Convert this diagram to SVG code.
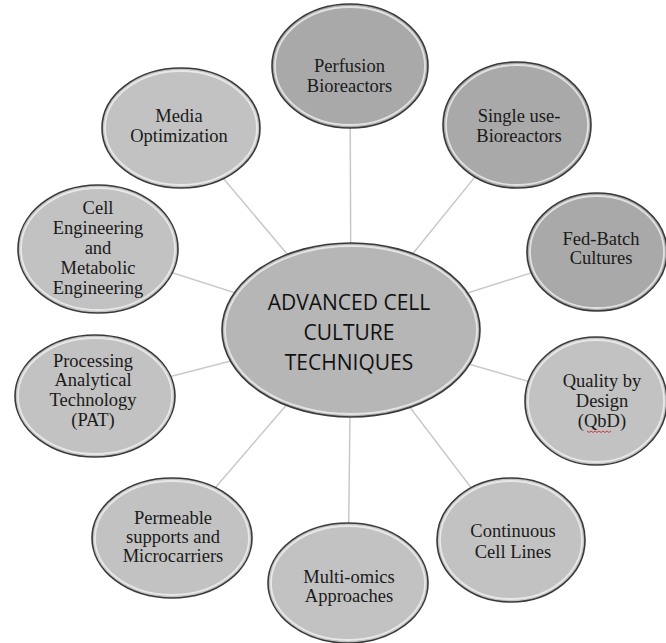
<svg xmlns="http://www.w3.org/2000/svg" width="666" height="643" viewBox="0 0 666 643">
<style>
.bg{fill:#ffffff}
.conn line{stroke:#c8c8c8;stroke-width:1.5}
.out{stroke:#3a3a3a;stroke-width:1.6}
.hl{fill:none;stroke:#f4f4f4;stroke-width:1.8;stroke-opacity:0.75}
.dark{fill:#a9a9a9}
.light{fill:#c2c2c2}
.mid{fill:#b6b6b6}
.t{font-family:"Liberation Serif","Times New Roman",serif;font-size:18.5px;fill:#1a1a1a;text-anchor:middle}
.ct{font-family:"Open Sans","Liberation Sans",Arial,sans-serif;font-size:21px;fill:#111;text-anchor:middle}
</style>
<rect class="bg" x="0" y="0" width="666" height="643"/>
<g id="connectors" class="conn">
<line x1="351" y1="330" x2="350" y2="66"/>
<line x1="351" y1="330" x2="517" y2="125"/>
<line x1="351" y1="330" x2="597" y2="252"/>
<line x1="351" y1="330" x2="596" y2="401"/>
<line x1="351" y1="330" x2="511" y2="540"/>
<line x1="351" y1="330" x2="348" y2="583"/>
<line x1="351" y1="330" x2="172" y2="538"/>
<line x1="351" y1="330" x2="95" y2="396"/>
<line x1="351" y1="330" x2="98" y2="249"/>
<line x1="351" y1="330" x2="181" y2="128"/>
</g>
<g id="center">
<ellipse class="out mid" cx="351" cy="330" rx="129" ry="87"/>
<ellipse class="hl" cx="351" cy="330" rx="126" ry="84"/>
<text class="ct" x="349" y="310">ADVANCED CELL</text>
<text class="ct" x="349" y="340">CULTURE</text>
<text class="ct" x="349" y="370">TECHNIQUES</text>
</g>
<g id="perfusion">
<ellipse class="out dark" cx="350" cy="66" rx="78" ry="62"/>
<ellipse class="hl" cx="350" cy="66" rx="75" ry="59"/>
<text class="t" x="349.5" y="72">Perfusion</text>
<text class="t" x="349.5" y="92">Bioreactors</text>
</g>
<g id="single-use">
<ellipse class="out dark" cx="517" cy="125" rx="74" ry="63"/>
<ellipse class="hl" cx="517" cy="125" rx="71" ry="60"/>
<text class="t" x="519" y="122">Single use-</text>
<text class="t" x="519" y="142">Bioreactors</text>
</g>
<g id="fed-batch">
<ellipse class="out dark" cx="597" cy="252" rx="70" ry="59"/>
<ellipse class="hl" cx="597" cy="252" rx="67" ry="56"/>
<text class="t" x="601" y="245">Fed-Batch</text>
<text class="t" x="601" y="264">Cultures</text>
</g>
<g id="qbd">
<ellipse class="out light" cx="596" cy="401" rx="71" ry="64"/>
<ellipse class="hl" cx="596" cy="401" rx="68" ry="61"/>
<text class="t" x="602" y="387">Quality by</text>
<text class="t" x="602" y="407">Design</text>
<text class="t" x="602" y="427">(QbD)</text>
<path d="M587 431 l2 1.5 l2 -1.5 l2 1.5 l2 -1.5 l2 1.5 l2 -1.5 l2 1.5 l2 -1.5 l2 1.5 l2 -1.5 l2 1.5 l2 -1.5" fill="none" stroke="#d03030" stroke-width="0.9"/>
</g>
<g id="continuous">
<ellipse class="out light" cx="511" cy="540" rx="74" ry="62"/>
<ellipse class="hl" cx="511" cy="540" rx="71" ry="59"/>
<text class="t" x="513" y="537">Continuous</text>
<text class="t" x="513" y="558">Cell Lines</text>
</g>
<g id="multi-omics">
<ellipse class="out light" cx="348" cy="583" rx="80" ry="60"/>
<ellipse class="hl" cx="348" cy="583" rx="77" ry="57"/>
<text class="t" x="349" y="583">Multi-omics</text>
<text class="t" x="349" y="602">Approaches</text>
</g>
<g id="permeable">
<ellipse class="out light" cx="172" cy="538" rx="80" ry="60"/>
<ellipse class="hl" cx="172" cy="538" rx="77" ry="57"/>
<text class="t" x="173" y="524">Permeable</text>
<text class="t" x="173" y="543">supports and</text>
<text class="t" x="173" y="562">Microcarriers</text>
</g>
<g id="pat">
<ellipse class="out light" cx="95" cy="396" rx="80" ry="61"/>
<ellipse class="hl" cx="95" cy="396" rx="77" ry="58"/>
<text class="t" x="93" y="367">Processing</text>
<text class="t" x="93" y="386">Analytical</text>
<text class="t" x="93" y="406">Technology</text>
<text class="t" x="93" y="426">(PAT)</text>
</g>
<g id="cell-engineering">
<ellipse class="out light" cx="98" cy="249" rx="80" ry="64"/>
<ellipse class="hl" cx="98" cy="249" rx="77" ry="61"/>
<text class="t" x="98" y="214">Cell</text>
<text class="t" x="98" y="234">Engineering</text>
<text class="t" x="98" y="254">and</text>
<text class="t" x="98" y="274">Metabolic</text>
<text class="t" x="98" y="294">Engineering</text>
</g>
<g id="media">
<ellipse class="out light" cx="181" cy="128" rx="79" ry="60"/>
<ellipse class="hl" cx="181" cy="128" rx="76" ry="57"/>
<text class="t" x="179" y="122">Media</text>
<text class="t" x="179" y="142">Optimization</text>
</g>
</svg>
